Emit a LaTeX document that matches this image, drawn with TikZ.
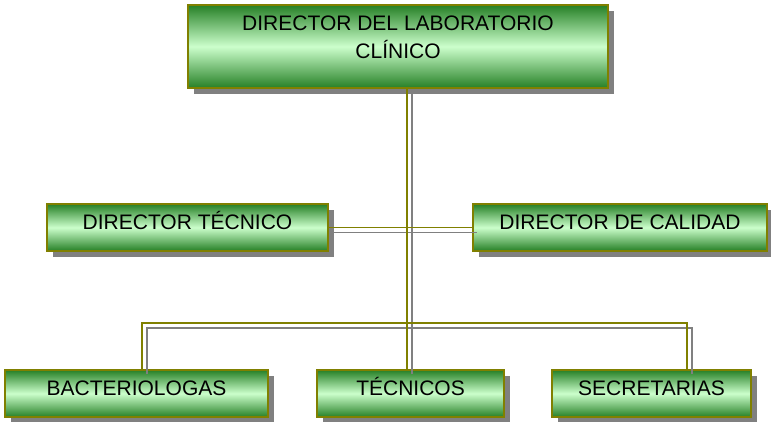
\documentclass[tikz,border=0pt]{standalone}
\usepackage{fontspec}
\setmainfont{Liberation Sans}
\usetikzlibrary{shadows}
\definecolor{boxdark}{RGB}{38,128,38}
\definecolor{boxlight}{RGB}{204,255,204}
\definecolor{boxline}{RGB}{128,128,0}
\definecolor{shadegray}{RGB}{128,128,128}
\tikzset{
  cargo/.style={draw=boxline, line width=2.5pt, top color=boxdark, bottom color=boxdark,
    middle color=boxlight, drop shadow={shadow xshift=6pt, shadow yshift=-6pt, fill=shadegray, opacity=1},
    font=\fontsize{21}{28}\selectfont, text height=15pt, text depth=10.5pt,
    minimum height=47pt, inner sep=0pt},
  linea/.style={draw=boxline, line width=1.8pt},
  sombra/.style={draw=shadegray, line width=1.8pt, transform canvas={xshift=5pt, yshift=-5pt}},
}

\begin{document}
\begin{tikzpicture}[x=1pt,y=-1pt]
\useasboundingbox (0,0) rectangle (771,422);

\node[cargo, minimum width=420pt, minimum height=83pt, align=center, text height=43pt, text depth=18.4pt] (dir) at (398,46.5) {DIRECTOR DEL LABORATORIO\\CLÍNICO};

\node[cargo, minimum width=281pt] (tec) at (187.5,227.5) {DIRECTOR TÉCNICO};
\node[cargo, minimum width=294pt] (cal) at (620,227.5) {DIRECTOR DE CALIDAD};

\node[cargo, minimum width=263pt] (bac) at (136.5,393.5) {BACTERIOLOGAS};
\node[cargo, minimum width=187pt] (tcs) at (410.5,393.5) {TÉCNICOS};
\node[cargo, minimum width=199pt] (sec) at (651.5,393.5) {SECRETARIAS};

\coordinate (v) at (407,0);
\coordinate (bl) at (142,323);
\coordinate (br) at (687,323);

\draw [sombra] (dir.south -| v) -- (tcs.north -| v) (tec.east) -- (cal.west)
	(bac.north -| bl) -- (bl) -- (br) -- (sec.north -| br);
\draw [linea] (dir.south -| v) -- (tcs.north -| v) (tec.east) -- (cal.west)
	(bac.north -| bl) -- (bl) -- (br) -- (sec.north -| br);
\end{tikzpicture}
\end{document}
